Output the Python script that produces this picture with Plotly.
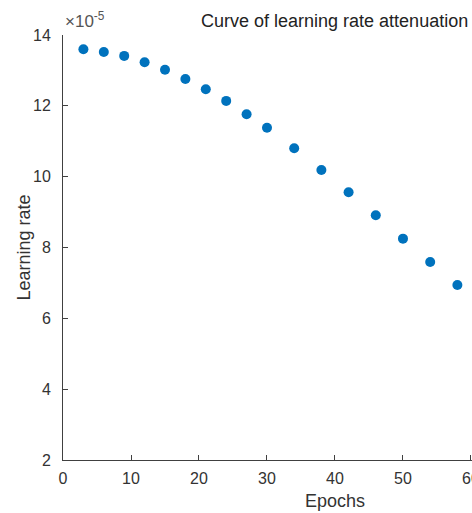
import plotly.graph_objects as go

# Data
epochs = [3, 6, 9, 12, 15, 18, 21, 24, 27, 30, 34, 38, 42, 46, 50, 54, 58]
lr_e5 = [13.60, 13.52, 13.41, 13.23, 13.02, 12.76, 12.47, 12.14, 11.76, 11.38,
         10.80, 10.19, 9.56, 8.91, 8.25, 7.59, 6.94]
x_ticks = [0, 10, 20, 30, 40, 50, 60]
y_ticks = [2, 4, 6, 8, 10, 12, 14]

title_text = "Curve of learning rate attenuation"
x_label = "Epochs"
y_label = "Learning rate"
exponent_text = "×10<sup>-5</sup>"

FONT = "Liberation Sans, Arial, Helvetica, sans-serif"
AX = "#404040"

fig = go.Figure()
fig.add_trace(go.Scatter(
    x=epochs, y=lr_e5, mode="markers",
    marker=dict(color="#0072BD", size=10, line=dict(width=0)),
    cliponaxis=False, showlegend=False,
))

fig.update_layout(
    width=472, height=513,
    margin=dict(l=63, r=0, t=35, b=53, autoexpand=False),
    paper_bgcolor="white", plot_bgcolor="white",
    font=dict(family=FONT, color="#333333", size=16),
    xaxis=dict(
        range=[0, 60.15], tickvals=x_ticks, ticktext=[str(v) for v in x_ticks],
        showgrid=False, zeroline=False, showline=True, linecolor=AX, linewidth=1,
        ticks="inside", ticklen=5, tickcolor=AX, tickfont=dict(size=16, color="#333333"),
        ticklabelstandoff=4, ticklabeloverflow="allow", automargin=False,
    ),
    yaxis=dict(
        range=[2, 14], tickvals=y_ticks, ticktext=[str(v) for v in y_ticks],
        showgrid=False, zeroline=False, showline=True, linecolor=AX, linewidth=1,
        ticks="inside", ticklen=5, tickcolor=AX, tickfont=dict(size=16, color="#333333"),
        ticklabelstandoff=8, ticklabeloverflow="allow", automargin=False,
    ),
    annotations=[
        dict(text=title_text, xref="x", x=40, yref="paper", y=1, yshift=14,
             xanchor="center", yanchor="middle", showarrow=False,
             font=dict(size=18, color="#222222")),
        dict(text=x_label, xref="x", x=40, yref="paper", y=0, yshift=-41,
             xanchor="center", yanchor="middle", showarrow=False,
             font=dict(size=18, color="#333333")),
        dict(text=y_label, xref="paper", x=0, xshift=-40, yref="paper", y=0.5,
             xanchor="center", yanchor="middle", textangle=-90, showarrow=False,
             font=dict(size=18, color="#333333")),
        dict(text=exponent_text, xref="paper", x=0, xshift=0, yref="paper", y=1, yshift=15,
             xanchor="left", yanchor="middle", showarrow=False,
             font=dict(size=17, color="#555555")),
    ],
)

fig.write_html("out.html")
